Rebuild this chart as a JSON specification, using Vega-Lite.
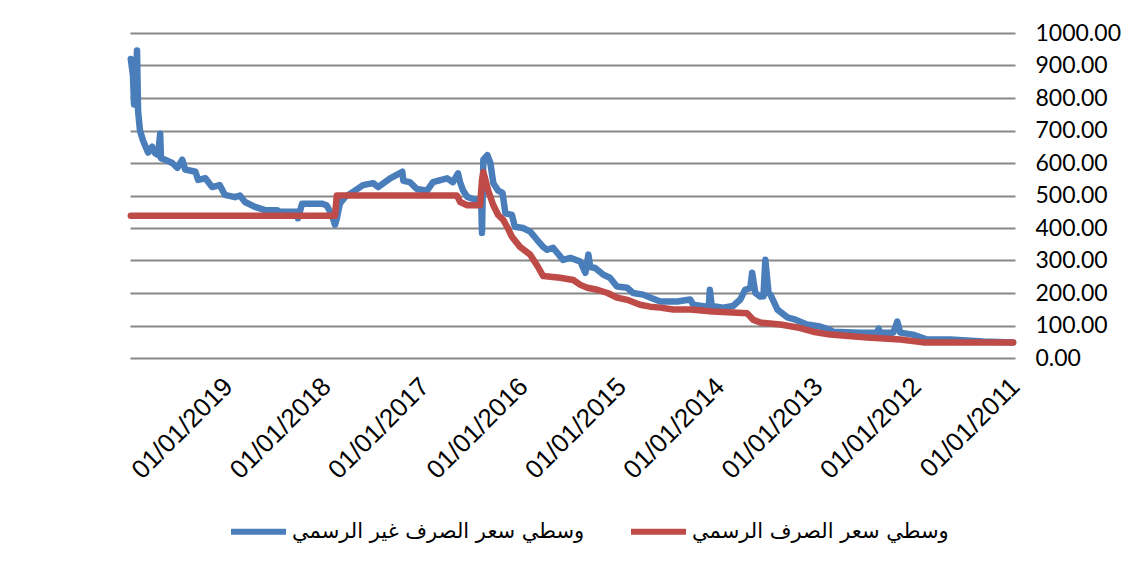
{
  "$schema": "https://vega.github.io/schema/vega-lite/v6.json",
  "autosize": {"type": "none"},
  "padding": {"left": 130, "top": 33, "right": 128, "bottom": 214},
  "width": 885,
  "height": 325,
  "background": "white",
  "config": {"view": {"stroke": null}},
  "data": {"values": [
    {"date":"2019-12-28","value":920,"series":"وسطي سعر الصرف غير الرسمي"},
    {"date":"2019-12-20","value":870,"series":"وسطي سعر الصرف غير الرسمي"},
    {"date":"2019-12-16","value":780,"series":"وسطي سعر الصرف غير الرسمي"},
    {"date":"2019-12-10","value":840,"series":"وسطي سعر الصرف غير الرسمي"},
    {"date":"2019-12-05","value":946,"series":"وسطي سعر الصرف غير الرسمي"},
    {"date":"2019-12-01","value":760,"series":"وسطي سعر الصرف غير الرسمي"},
    {"date":"2019-11-24","value":700,"series":"وسطي سعر الصرف غير الرسمي"},
    {"date":"2019-11-13","value":670,"series":"وسطي سعر الصرف غير الرسمي"},
    {"date":"2019-10-25","value":632,"series":"وسطي سعر الصرف غير الرسمي"},
    {"date":"2019-10-10","value":650,"series":"وسطي سعر الصرف غير الرسمي"},
    {"date":"2019-09-29","value":630,"series":"وسطي سعر الصرف غير الرسمي"},
    {"date":"2019-09-18","value":625,"series":"وسطي سعر الصرف غير الرسمي"},
    {"date":"2019-09-10","value":690,"series":"وسطي سعر الصرف غير الرسمي"},
    {"date":"2019-09-07","value":615,"series":"وسطي سعر الصرف غير الرسمي"},
    {"date":"2019-08-23","value":610,"series":"وسطي سعر الصرف غير الرسمي"},
    {"date":"2019-07-27","value":600,"series":"وسطي سعر الصرف غير الرسمي"},
    {"date":"2019-07-08","value":585,"series":"وسطي سعر الصرف غير الرسمي"},
    {"date":"2019-06-20","value":610,"series":"وسطي سعر الصرف غير الرسمي"},
    {"date":"2019-06-09","value":580,"series":"وسطي سعر الصرف غير الرسمي"},
    {"date":"2019-05-02","value":573,"series":"وسطي سعر الصرف غير الرسمي"},
    {"date":"2019-04-22","value":548,"series":"وسطي سعر الصرف غير الرسمي"},
    {"date":"2019-03-26","value":553,"series":"وسطي سعر الصرف غير الرسمي"},
    {"date":"2019-03-01","value":526,"series":"وسطي سعر الصرف غير الرسمي"},
    {"date":"2019-02-01","value":532,"series":"وسطي سعر الصرف غير الرسمي"},
    {"date":"2019-01-13","value":502,"series":"وسطي سعر الصرف غير الرسمي"},
    {"date":"2018-12-06","value":495,"series":"وسطي سعر الصرف غير الرسمي"},
    {"date":"2018-11-18","value":500,"series":"وسطي سعر الصرف غير الرسمي"},
    {"date":"2018-10-30","value":480,"series":"وسطي سعر الصرف غير الرسمي"},
    {"date":"2018-09-23","value":465,"series":"وسطي سعر الصرف غير الرسمي"},
    {"date":"2018-08-16","value":455,"series":"وسطي سعر الصرف غير الرسمي"},
    {"date":"2018-07-03","value":455,"series":"وسطي سعر الصرف غير الرسمي"},
    {"date":"2018-06-22","value":450,"series":"وسطي سعر الصرف غير الرسمي"},
    {"date":"2018-05-08","value":450,"series":"وسطي سعر الصرف غير الرسمي"},
    {"date":"2018-04-19","value":450,"series":"وسطي سعر الصرف غير الرسمي"},
    {"date":"2018-04-16","value":430,"series":"وسطي سعر الصرف غير الرسمي"},
    {"date":"2018-04-01","value":475,"series":"وسطي سعر الصرف غير الرسمي"},
    {"date":"2018-02-24","value":475,"series":"وسطي سعر الصرف غير الرسمي"},
    {"date":"2018-01-18","value":475,"series":"وسطي سعر الصرف غير الرسمي"},
    {"date":"2017-12-31","value":470,"series":"وسطي سعر الصرف غير الرسمي"},
    {"date":"2017-12-11","value":440,"series":"وسطي سعر الصرف غير الرسمي"},
    {"date":"2017-11-30","value":410,"series":"وسطي سعر الصرف غير الرسمي"},
    {"date":"2017-11-23","value":430,"series":"وسطي سعر الصرف غير الرسمي"},
    {"date":"2017-11-12","value":475,"series":"وسطي سعر الصرف غير الرسمي"},
    {"date":"2017-10-24","value":495,"series":"وسطي سعر الصرف غير الرسمي"},
    {"date":"2017-09-17","value":515,"series":"وسطي سعر الصرف غير الرسمي"},
    {"date":"2017-08-18","value":532,"series":"وسطي سعر الصرف غير الرسمي"},
    {"date":"2017-07-11","value":538,"series":"وسطي سعر الصرف غير الرسمي"},
    {"date":"2017-06-23","value":526,"series":"وسطي سعر الصرف غير الرسمي"},
    {"date":"2017-05-09","value":553,"series":"وسطي سعر الصرف غير الرسمي"},
    {"date":"2017-03-25","value":573,"series":"وسطي سعر الصرف غير الرسمي"},
    {"date":"2017-03-21","value":545,"series":"وسطي سعر الصرف غير الرسمي"},
    {"date":"2017-02-25","value":541,"series":"وسطي سعر الصرف غير الرسمي"},
    {"date":"2017-01-30","value":520,"series":"وسطي سعر الصرف غير الرسمي"},
    {"date":"2016-12-23","value":515,"series":"وسطي سعر الصرف غير الرسمي"},
    {"date":"2016-12-01","value":541,"series":"وسطي سعر الصرف غير الرسمي"},
    {"date":"2016-10-10","value":553,"series":"وسطي سعر الصرف غير الرسمي"},
    {"date":"2016-09-18","value":541,"series":"وسطي سعر الصرف غير الرسمي"},
    {"date":"2016-08-30","value":568,"series":"وسطي سعر الصرف غير الرسمي"},
    {"date":"2016-08-22","value":540,"series":"وسطي سعر الصرف غير الرسمي"},
    {"date":"2016-08-11","value":515,"series":"وسطي سعر الصرف غير الرسمي"},
    {"date":"2016-07-27","value":496,"series":"وسطي سعر الصرف غير الرسمي"},
    {"date":"2016-07-16","value":492,"series":"وسطي سعر الصرف غير الرسمي"},
    {"date":"2016-06-16","value":486,"series":"وسطي سعر الصرف غير الرسمي"},
    {"date":"2016-06-05","value":480,"series":"وسطي سعر الصرف غير الرسمي"},
    {"date":"2016-06-02","value":385,"series":"وسطي سعر الصرف غير الرسمي"},
    {"date":"2016-05-28","value":610,"series":"وسطي سعر الصرف غير الرسمي"},
    {"date":"2016-05-13","value":624,"series":"وسطي سعر الصرف غير الرسمي"},
    {"date":"2016-05-02","value":600,"series":"وسطي سعر الصرف غير الرسمي"},
    {"date":"2016-04-21","value":538,"series":"وسطي سعر الصرف غير الرسمي"},
    {"date":"2016-04-03","value":515,"series":"وسطي سعر الصرف غير الرسمي"},
    {"date":"2016-03-18","value":508,"series":"وسطي سعر الصرف غير الرسمي"},
    {"date":"2016-03-07","value":445,"series":"وسطي سعر الصرف غير الرسمي"},
    {"date":"2016-02-12","value":440,"series":"وسطي سعر الصرف غير الرسمي"},
    {"date":"2016-02-01","value":404,"series":"وسطي سعر الصرف غير الرسمي"},
    {"date":"2016-01-02","value":400,"series":"وسطي سعر الصرف غير الرسمي"},
    {"date":"2015-12-06","value":389,"series":"وسطي سعر الصرف غير الرسمي"},
    {"date":"2015-11-10","value":363,"series":"وسطي سعر الصرف غير الرسمي"},
    {"date":"2015-10-19","value":342,"series":"وسطي سعر الصرف غير الرسمي"},
    {"date":"2015-10-04","value":333,"series":"وسطي سعر الصرف غير الرسمي"},
    {"date":"2015-09-12","value":339,"series":"وسطي سعر الصرف غير الرسمي"},
    {"date":"2015-08-06","value":302,"series":"وسطي سعر الصرف غير الرسمي"},
    {"date":"2015-07-10","value":308,"series":"وسطي سعر الصرف غير الرسمي"},
    {"date":"2015-06-03","value":297,"series":"وسطي سعر الصرف غير الرسمي"},
    {"date":"2015-05-15","value":262,"series":"وسطي سعر الصرف غير الرسمي"},
    {"date":"2015-05-04","value":318,"series":"وسطي سعر الصرف غير الرسمي"},
    {"date":"2015-04-27","value":280,"series":"وسطي سعر الصرف غير الرسمي"},
    {"date":"2015-04-09","value":277,"series":"وسطي سعر الصرف غير الرسمي"},
    {"date":"2015-03-09","value":256,"series":"وسطي سعر الصرف غير الرسمي"},
    {"date":"2015-02-13","value":247,"series":"وسطي سعر الصرف غير الرسمي"},
    {"date":"2015-01-18","value":220,"series":"وسطي سعر الصرف غير الرسمي"},
    {"date":"2014-12-11","value":216,"series":"وسطي سعر الصرف غير الرسمي"},
    {"date":"2014-11-19","value":200,"series":"وسطي سعر الصرف غير الرسمي"},
    {"date":"2014-10-13","value":195,"series":"وسطي سعر الصرف غير الرسمي"},
    {"date":"2014-09-17","value":186,"series":"وسطي سعر الصرف غير الرسمي"},
    {"date":"2014-08-10","value":174,"series":"وسطي سعر الصرف غير الرسمي"},
    {"date":"2014-06-08","value":174,"series":"وسطي سعر الصرف غير الرسمي"},
    {"date":"2014-04-21","value":180,"series":"وسطي سعر الصرف غير الرسمي"},
    {"date":"2014-04-10","value":164,"series":"وسطي سعر الصرف غير الرسمي"},
    {"date":"2014-02-18","value":158,"series":"وسطي سعر الصرف غير الرسمي"},
    {"date":"2014-02-11","value":160,"series":"وسطي سعر الصرف غير الرسمي"},
    {"date":"2014-02-07","value":210,"series":"وسطي سعر الصرف غير الرسمي"},
    {"date":"2014-01-31","value":160,"series":"وسطي سعر الصرف غير الرسمي"},
    {"date":"2013-12-20","value":155,"series":"وسطي سعر الصرف غير الرسمي"},
    {"date":"2013-11-13","value":160,"series":"وسطي سعر الصرف غير الرسمي"},
    {"date":"2013-10-17","value":180,"series":"وسطي سعر الصرف غير الرسمي"},
    {"date":"2013-09-29","value":210,"series":"وسطي سعر الصرف غير الرسمي"},
    {"date":"2013-09-10","value":215,"series":"وسطي سعر الصرف غير الرسمي"},
    {"date":"2013-09-03","value":262,"series":"وسطي سعر الصرف غير الرسمي"},
    {"date":"2013-08-22","value":200,"series":"وسطي سعر الصرف غير الرسمي"},
    {"date":"2013-08-04","value":189,"series":"وسطي سعر الصرف غير الرسمي"},
    {"date":"2013-07-23","value":190,"series":"وسطي سعر الصرف غير الرسمي"},
    {"date":"2013-07-16","value":302,"series":"وسطي سعر الصرف غير الرسمي"},
    {"date":"2013-07-04","value":200,"series":"وسطي سعر الصرف غير الرسمي"},
    {"date":"2013-06-27","value":195,"series":"وسطي سعر الصرف غير الرسمي"},
    {"date":"2013-06-01","value":149,"series":"وسطي سعر الصرف غير الرسمي"},
    {"date":"2013-04-25","value":125,"series":"وسطي سعر الصرف غير الرسمي"},
    {"date":"2013-03-26","value":118,"series":"وسطي سعر الصرف غير الرسمي"},
    {"date":"2013-02-12","value":103,"series":"وسطي سعر الصرف غير الرسمي"},
    {"date":"2012-12-25","value":97,"series":"وسطي سعر الصرف غير الرسمي"},
    {"date":"2012-11-18","value":87,"series":"وسطي سعر الصرف غير الرسمي"},
    {"date":"2012-11-07","value":81,"series":"وسطي سعر الصرف غير الرسمي"},
    {"date":"2012-07-29","value":78,"series":"وسطي سعر الصرف غير الرسمي"},
    {"date":"2012-05-26","value":78,"series":"وسطي سعر الصرف غير الرسمي"},
    {"date":"2012-05-22","value":90,"series":"وسطي سعر الصرف غير الرسمي"},
    {"date":"2012-05-15","value":78,"series":"وسطي سعر الصرف غير الرسمي"},
    {"date":"2012-03-28","value":78,"series":"وسطي سعر الصرف غير الرسمي"},
    {"date":"2012-03-13","value":112,"series":"وسطي سعر الصرف غير الرسمي"},
    {"date":"2012-03-02","value":78,"series":"وسطي سعر الصرف غير الرسمي"},
    {"date":"2012-01-15","value":72,"series":"وسطي سعر الصرف غير الرسمي"},
    {"date":"2011-11-23","value":57,"series":"وسطي سعر الصرف غير الرسمي"},
    {"date":"2011-08-29","value":57,"series":"وسطي سعر الصرف غير الرسمي"},
    {"date":"2011-04-28","value":51,"series":"وسطي سعر الصرف غير الرسمي"},
    {"date":"2011-01-08","value":48,"series":"وسطي سعر الصرف غير الرسمي"},
    {"date":"2019-12-28","value":438,"series":"وسطي سعر الصرف الرسمي"},
    {"date":"2017-11-30","value":438,"series":"وسطي سعر الصرف الرسمي"},
    {"date":"2017-11-23","value":500,"series":"وسطي سعر الصرف الرسمي"},
    {"date":"2016-09-03","value":500,"series":"وسطي سعر الصرف الرسمي"},
    {"date":"2016-08-22","value":480,"series":"وسطي سعر الصرف الرسمي"},
    {"date":"2016-07-27","value":470,"series":"وسطي سعر الصرف الرسمي"},
    {"date":"2016-06-09","value":470,"series":"وسطي سعر الصرف الرسمي"},
    {"date":"2016-06-02","value":548,"series":"وسطي سعر الصرف الرسمي"},
    {"date":"2016-05-28","value":572,"series":"وسطي سعر الصرف الرسمي"},
    {"date":"2016-05-10","value":515,"series":"وسطي سعر الصرف الرسمي"},
    {"date":"2016-04-21","value":470,"series":"وسطي سعر الصرف الرسمي"},
    {"date":"2016-04-03","value":440,"series":"وسطي سعر الصرف الرسمي"},
    {"date":"2016-03-15","value":425,"series":"وسطي سعر الصرف الرسمي"},
    {"date":"2016-03-01","value":404,"series":"وسطي سعر الصرف الرسمي"},
    {"date":"2016-02-12","value":373,"series":"وسطي سعر الصرف الرسمي"},
    {"date":"2016-01-13","value":342,"series":"وسطي سعر الصرف الرسمي"},
    {"date":"2015-12-06","value":318,"series":"وسطي سعر الصرف الرسمي"},
    {"date":"2015-11-07","value":280,"series":"وسطي سعر الصرف الرسمي"},
    {"date":"2015-10-19","value":252,"series":"وسطي سعر الصرف الرسمي"},
    {"date":"2015-08-17","value":247,"series":"وسطي سعر الصرف الرسمي"},
    {"date":"2015-06-29","value":240,"series":"وسطي سعر الصرف الرسمي"},
    {"date":"2015-06-03","value":225,"series":"وسطي سعر الصرف الرسمي"},
    {"date":"2015-05-08","value":216,"series":"وسطي سعر الصرف الرسمي"},
    {"date":"2015-04-01","value":210,"series":"وسطي سعر الصرف الرسمي"},
    {"date":"2015-02-22","value":200,"series":"وسطي سعر الصرف الرسمي"},
    {"date":"2015-01-18","value":186,"series":"وسطي سعر الصرف الرسمي"},
    {"date":"2014-12-11","value":179,"series":"وسطي سعر الصرف الرسمي"},
    {"date":"2014-10-24","value":164,"series":"وسطي سعر الصرف الرسمي"},
    {"date":"2014-09-17","value":158,"series":"وسطي سعر الصرف الرسمي"},
    {"date":"2014-08-10","value":155,"series":"وسطي سعر الصرف الرسمي"},
    {"date":"2014-06-23","value":149,"series":"وسطي سعر الصرف الرسمي"},
    {"date":"2014-04-21","value":149,"series":"وسطي سعر الصرف الرسمي"},
    {"date":"2014-01-27","value":143,"series":"وسطي سعر الصرف الرسمي"},
    {"date":"2013-09-22","value":138,"series":"وسطي سعر الصرف الرسمي"},
    {"date":"2013-08-30","value":118,"series":"وسطي سعر الصرف الرسمي"},
    {"date":"2013-08-04","value":109,"series":"وسطي سعر الصرف الرسمي"},
    {"date":"2013-05-21","value":103,"series":"وسطي سعر الصرف الرسمي"},
    {"date":"2013-03-18","value":94,"series":"وسطي سعر الصرف الرسمي"},
    {"date":"2013-01-20","value":81,"series":"وسطي سعر الصرف الرسمي"},
    {"date":"2012-11-18","value":72,"series":"وسطي سعر الصرف الرسمي"},
    {"date":"2012-07-03","value":63,"series":"وسطي سعر الصرف الرسمي"},
    {"date":"2012-03-02","value":57,"series":"وسطي سعر الصرف الرسمي"},
    {"date":"2011-12-08","value":48,"series":"وسطي سعر الصرف الرسمي"},
    {"date":"2011-01-08","value":48,"series":"وسطي سعر الصرف الرسمي"}
  ]},
  "encoding": {
    "x": {
      "field": "date", "type": "temporal", "title": null,
      "scale": {"type": "utc", "domain": [{"year": 2011, "month": 1, "date": 1, "utc": true}, {"year": 2019, "month": 12, "date": 31, "utc": true}], "reverse": true},
      "axis": {
        "values": [
          {"year": 2011, "month": 1, "date": 1, "utc": true},
          {"year": 2012, "month": 1, "date": 1, "utc": true},
          {"year": 2013, "month": 1, "date": 1, "utc": true},
          {"year": 2014, "month": 1, "date": 1, "utc": true},
          {"year": 2015, "month": 1, "date": 1, "utc": true},
          {"year": 2016, "month": 1, "date": 1, "utc": true},
          {"year": 2017, "month": 1, "date": 1, "utc": true},
          {"year": 2018, "month": 1, "date": 1, "utc": true},
          {"year": 2019, "month": 1, "date": 1, "utc": true}
        ],
        "labelExpr": "utcFormat(datum.value, '%d/%m/%Y')",
        "labelAngle": -45, "labelAlign": "right", "labelBaseline": "middle",
        "labelFont": "Liberation Sans", "labelFontSize": 26, "labelColor": "#000000",
        "labelPadding": 24, "labelOverlap": false, "labelBound": false, "labelFlush": false,
        "domain": false, "ticks": false, "grid": false
      }
    },
    "y": {
      "field": "value", "type": "quantitative", "title": null,
      "scale": {"domain": [0, 1000], "nice": false},
      "axis": {
        "orient": "right",
        "values": [0, 100, 200, 300, 400, 500, 600, 700, 800, 900, 1000],
        "format": ".2f",
        "labelFont": "Lato", "labelFontSize": 23, "labelColor": "#000000",
        "labelPadding": 20, "labelOverlap": false, "labelFlush": false,
        "domain": false, "ticks": false,
        "grid": true, "gridColor": "#888888", "gridWidth": 2
      }
    },
    "color": {
      "field": "series", "type": "nominal", "title": null,
      "scale": {"domain": ["وسطي سعر الصرف غير الرسمي", "وسطي سعر الصرف الرسمي"], "range": ["#4A7EBB", "#BE4B48"]},
      "legend": {
        "orient": "none", "legendX": 98, "legendY": 468, "direction": "horizontal",
        "symbolType": "stroke", "symbolStrokeWidth": 6, "symbolSize": 3025,
        "labelFont": "DejaVu Sans", "labelFontSize": 21, "labelColor": "#000000",
        "labelOffset": 3, "columnPadding": 34, "labelLimit": 400
      }
    }
  },
  "layer": [
    {
      "transform": [{"filter": "datum.series === 'وسطي سعر الصرف غير الرسمي'"}],
      "mark": {"type": "line", "strokeWidth": 6.5, "strokeJoin": "round", "strokeCap": "round"}
    },
    {
      "transform": [{"filter": "datum.series === 'وسطي سعر الصرف الرسمي'"}],
      "mark": {"type": "line", "strokeWidth": 6.5, "strokeJoin": "round", "strokeCap": "round"}
    }
  ]
}
